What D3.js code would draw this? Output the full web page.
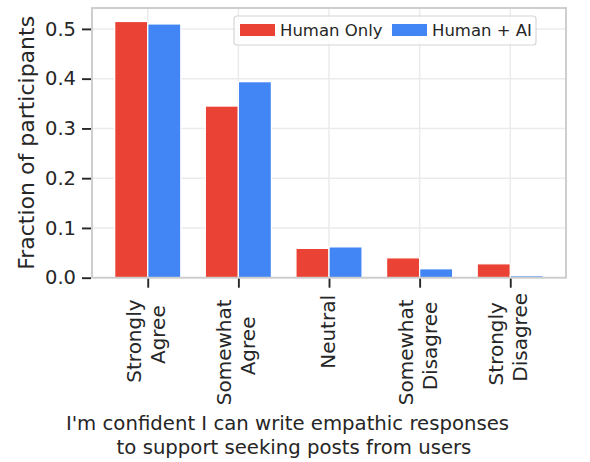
<!DOCTYPE html>
<html>
<head>
<meta charset="utf-8">
<script src="https://cdn.jsdelivr.net/npm/d3@7"></script>
<style>
  html, body { margin: 0; padding: 0; background: #fff; }
  svg { display: block; font-family: "DejaVu Sans", sans-serif; }
</style>
</head>
<body>
<svg id="chart" width="590" height="462"></svg>
<script>
// ---- data ----
const categories = ["Strongly Agree", "Somewhat Agree", "Neutral", "Somewhat Disagree", "Strongly Disagree"];
const tickLines = [["Strongly", "Agree"], ["Somewhat", "Agree"], ["Neutral"], ["Somewhat", "Disagree"], ["Strongly", "Disagree"]];
const seriesNames = ["Human Only", "Human + AI"];
const humanOnly = [0.515, 0.345, 0.059, 0.040, 0.028];
const humanAI = [0.510, 0.394, 0.062, 0.018, 0.004];
const yTicks = [0.0, 0.1, 0.2, 0.3, 0.4, 0.5];
const yTickLabels = ["0.0", "0.1", "0.2", "0.3", "0.4", "0.5"];
const xLabelLines = ["I'm confident I can write empathic responses", "to support seeking posts from users"];
const yLabel = "Fraction of participants";

// ---- layout ----
const colors = ["#EA4335", "#4285F4"];
const textColor = "#262626";
const plot = { left: 92, right: 566, top: 8, bottom: 277.7 };
const barW = 0.365;

const svg = d3.select("#chart");
const x = d3.scaleLinear().domain([-0.615, categories.length - 1 + 0.615]).range([plot.left, plot.right]);
const y = d3.scaleLinear().domain([0, 0.542]).range([plot.bottom, plot.top]);

// grid
const grid = svg.append("g");
grid.selectAll("line.h").data(yTicks).join("line")
  .attr("x1", plot.left).attr("x2", plot.right)
  .attr("y1", d => y(d)).attr("y2", d => y(d))
  .attr("stroke", "#ebebeb").attr("stroke-width", 1.5);
grid.selectAll("line.v").data(categories.map((c, i) => i)).join("line")
  .attr("class", "v")
  .attr("x1", d => x(d)).attr("x2", d => x(d))
  .attr("y1", plot.top).attr("y2", plot.bottom)
  .attr("stroke", "#ebebeb").attr("stroke-width", 1.5);

// bars
const series = [humanOnly, humanAI];
series.forEach((vals, s) => {
  svg.append("g").selectAll("rect").data(vals).join("rect")
    .attr("x", (d, i) => s === 0 ? x(i - barW) : x(i))
    .attr("width", x(barW) - x(0))
    .attr("y", d => y(d))
    .attr("height", d => y(0) - y(d))
    .attr("fill", colors[s])
    .attr("stroke", "#fff").attr("stroke-width", 1.3);
});

// frame
svg.append("rect")
  .attr("x", plot.left).attr("y", plot.top)
  .attr("width", plot.right - plot.left).attr("height", plot.bottom - plot.top)
  .attr("fill", "none").attr("stroke", "#cccccc").attr("stroke-width", 1.9);

// y axis
const yAxis = d3.axisLeft(y).tickValues(yTicks).tickFormat((d, i) => yTickLabels[i]).tickSize(9).tickPadding(6);
const yg = svg.append("g").attr("transform", `translate(${plot.left - 1},0)`).call(yAxis);
yg.select(".domain").remove();
yg.selectAll(".tick line").attr("stroke", textColor).attr("stroke-width", 1.9);
yg.selectAll(".tick text").attr("fill", textColor).style("font-size", "19.5px").style("font-family", "DejaVu Sans");

// x axis ticks
const xAxis = d3.axisBottom(x).tickValues(categories.map((c, i) => i)).tickFormat("").tickSize(9);
const xg = svg.append("g").attr("transform", `translate(0,${plot.bottom + 1})`).call(xAxis);
xg.select(".domain").remove();
xg.selectAll(".tick line").attr("stroke", textColor).attr("stroke-width", 1.9);

// x tick labels (rotated, multi-line)
const fs = 20, T = 293, sp = 0.318 * fs;
tickLines.forEach((lines, i) => {
  const g = svg.append("g").attr("transform", `translate(${x(i)},0)`);
  const texts = lines.map(t => g.append("text").text(t)
    .attr("fill", textColor).style("font-size", fs + "px").attr("text-anchor", "start"));
  const lens = texts.map(t => t.node().getComputedTextLength());
  if (lines.length === 1) {
    texts[0].attr("transform", `translate(5.5,${T + lens[0] + 2}) rotate(-90)`);
  } else {
    const L = lens.map(l => l + sp);
    const W = d3.max(L);
    const c = T + W / 2;
    texts[0].attr("transform", `translate(-7,${c + L[0] / 2}) rotate(-90)`);
    texts[1].attr("transform", `translate(17,${c + L[1] / 2 - sp}) rotate(-90)`);
  }
});

// x label
svg.append("text").text(xLabelLines[0]).attr("x", 287.5).attr("y", 430)
  .attr("text-anchor", "middle").attr("fill", textColor).style("font-size", "19.7px");
svg.append("text").text(xLabelLines[1]).attr("x", 294).attr("y", 453.5)
  .attr("text-anchor", "middle").attr("fill", textColor).style("font-size", "19.7px");

// y label
svg.append("text").text(yLabel)
  .attr("transform", `translate(34,${(plot.top + plot.bottom) / 2}) rotate(-90)`)
  .attr("text-anchor", "middle").attr("fill", textColor).style("font-size", "22px");

// legend
const lg = svg.append("g");
lg.append("rect").attr("x", 234).attr("y", 16).attr("width", 302).attr("height", 29)
  .attr("rx", 3).attr("fill", "#fff").attr("fill-opacity", 0.8)
  .attr("stroke", "#d6d6d6").attr("stroke-width", 1.2);
const legendX = [240, 392];
seriesNames.forEach((name, s) => {
  lg.append("rect").attr("x", legendX[s]).attr("y", 24).attr("width", 35).attr("height", 12)
    .attr("fill", colors[s]);
  lg.append("text").text(name).attr("x", legendX[s] + 40).attr("y", 36.3)
    .attr("fill", textColor).style("font-size", "16.5px");
});
</script>
</body>
</html>
